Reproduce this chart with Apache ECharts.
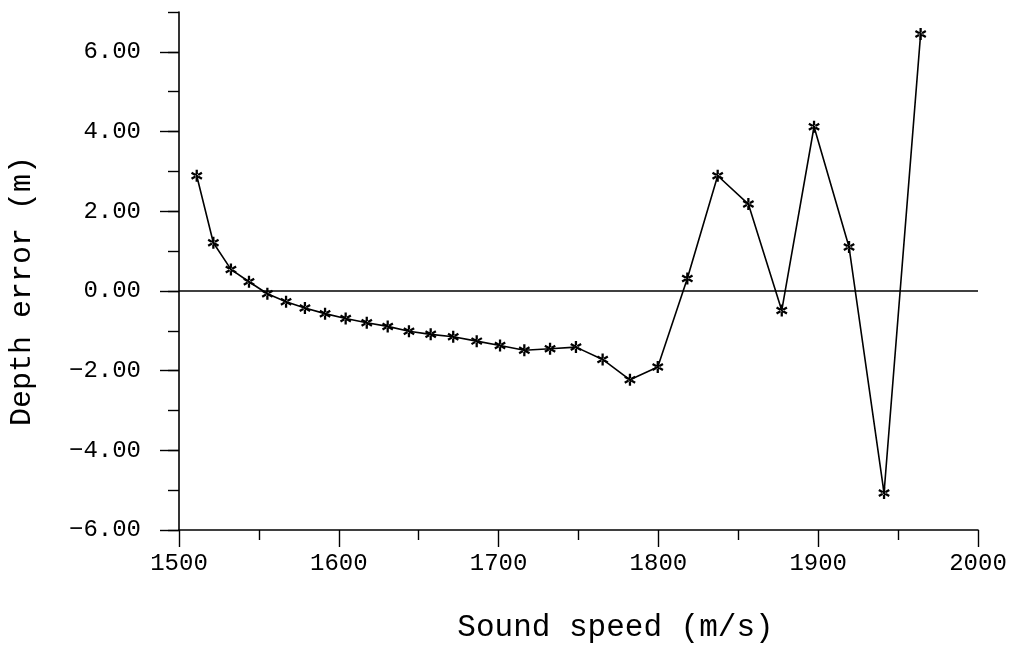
<!DOCTYPE html>
<html>
<head>
<meta charset="utf-8">
<script src="https://cdn.jsdelivr.net/npm/echarts@6/dist/echarts.min.js"></script>
<style>
  html, body { margin: 0; padding: 0; background: #fff; }
  #chart { width: 1009px; height: 648px; }
</style>
</head>
<body>
<div id="chart"></div>
<script>
// ---- data ----
const soundSpeed = [1511.1, 1521.5, 1532.5, 1543.8, 1555.3, 1567.0, 1578.8, 1591.4, 1604.3, 1617.5,
                    1630.6, 1643.9, 1657.5, 1671.6, 1686.3, 1700.9, 1716.1, 1732.2, 1748.4, 1765.1,
                    1782.2, 1799.6, 1818.1, 1837.1, 1856.3, 1877.2, 1897.4, 1919.3, 1941.2, 1964.1];
const depthError = [2.89, 1.21, 0.54, 0.23, -0.07, -0.27, -0.43, -0.57, -0.69, -0.80,
                    -0.89, -1.01, -1.09, -1.15, -1.26, -1.37, -1.49, -1.45, -1.41, -1.72,
                    -2.23, -1.91, 0.31, 2.89, 2.18, -0.49, 4.12, 1.10, -5.07, 6.45];
const yLabelValues = [-6, -4, -2, 0, 2, 4, 6];
const xTitle = 'Sound speed (m/s)';
const yTitle = 'Depth error (m)';

const FONT = '"Liberation Mono", "DejaVu Sans Mono", monospace';
const points = soundSpeed.map((x, i) => [x, depthError[i]]);

// asterisk marker (three crossing bars)
const asterisk = 'path://M-1.9,-10L1.9,-10L1.9,10L-1.9,10Z' +
  'M9.61,-3.35L7.71,-6.65L-9.61,3.35L-7.71,6.65Z' +
  'M-9.61,-3.35L-7.71,-6.65L9.61,3.35L7.71,6.65Z';

const chart = echarts.init(document.getElementById('chart'), null, { renderer: 'canvas' });
chart.setOption({
  backgroundColor: '#fff',
  animation: false,
  grid: { left: 179, right: 31, top: 12, bottom: 118, containLabel: false, outerBoundsMode: 'none' },
  xAxis: [{
    type: 'value', min: 1500, max: 2000, interval: 100,
    name: xTitle, nameLocation: 'middle', nameGap: 82,
    nameTextStyle: { fontFamily: FONT, fontSize: 31, color: '#000', padding: [0, 0, 0, 74] },
    axisLine: { show: true, onZero: false, lineStyle: { color: '#000', width: 1.6 } },
    axisTick: { show: true, inside: false, length: 17, lineStyle: { color: '#000', width: 1.4 } },
    minorTick: { show: true, splitNumber: 2, length: 10, lineStyle: { color: '#000', width: 1.4 } },
    axisLabel: { fontFamily: FONT, fontSize: 24, color: '#000', margin: 22,
                 formatter: v => String(v) },
    splitLine: { show: false }, minorSplitLine: { show: false }
  }],
  yAxis: [{
    type: 'value', min: -6, max: 7, interval: 1,
    name: yTitle, nameLocation: 'middle', nameGap: 142, nameRotate: 90,
    nameTextStyle: { fontFamily: FONT, fontSize: 30, color: '#000', padding: [0, 40, 0, 0] },
    axisLine: { show: true, onZero: false, lineStyle: { color: '#000', width: 1.6 } },
    axisTick: { show: true, inside: false, length: 11, lineStyle: { color: '#000', width: 1.4 } },
    axisLabel: { show: false },
    splitLine: { show: false }
  }, {
    type: 'value', min: -6, max: 7, position: 'left', offset: 0,
    axisLine: { show: false },
    axisTick: { show: true, inside: false, length: 19, customValues: yLabelValues,
                lineStyle: { color: '#000', width: 1.4 } },
    axisLabel: { show: true, customValues: yLabelValues, fontFamily: FONT, fontSize: 24, color: '#000', margin: 38,
                 formatter: v => (v < 0 ? '\u2212' : '') + Math.abs(v).toFixed(2) },
    splitLine: { show: false }
  }],
  series: [{
    type: 'line',
    xAxisIndex: 0, yAxisIndex: 0,
    data: points,
    symbol: asterisk,
    symbolSize: 12,
    symbolKeepAspect: true,
    showSymbol: true,
    itemStyle: { color: '#000' },
    lineStyle: { color: '#000', width: 1.6 },
    markLine: {
      silent: true, symbol: 'none', label: { show: false },
      lineStyle: { color: '#000', width: 1.6, type: 'solid' },
      data: [{ yAxis: 0 }]
    }
  }]
});
</script>
</body>
</html>
